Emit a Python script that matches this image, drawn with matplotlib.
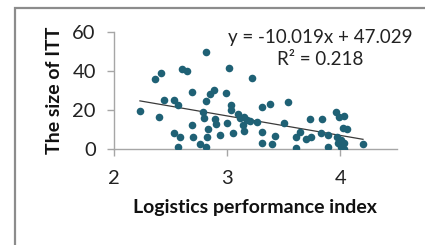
import matplotlib.pyplot as plt
import numpy as np
from matplotlib.patches import Rectangle

# Logistics performance index vs size of ITT
lpi = [2.23, 2.36, 2.42, 2.40, 2.44, 2.53, 2.57, 2.53, 2.58, 2.57,
       2.60, 2.65, 2.69, 2.69, 2.70, 2.76, 2.81, 2.81, 2.81, 2.79,
       2.80, 2.83, 2.82, 2.85, 2.88, 2.89, 2.90, 2.94, 2.99, 3.02,
       3.03, 3.03, 3.00, 3.05, 3.10, 3.11, 3.15, 3.18, 3.14, 3.15,
       3.22, 3.20, 3.26, 3.31, 3.31, 3.31, 3.38, 3.54, 3.42, 3.40,
       3.50, 3.61, 3.61, 3.64, 3.73, 3.84, 3.70, 3.74, 3.83, 3.89,
       3.89, 3.96, 3.99, 4.03, 4.02, 4.06, 3.97, 4.01, 4.03, 4.01,
       4.03, 4.20, 3.98]
itt = [19.5, 36.0, 39.0, 16.4, 25.0, 25.0, 22.6, 8.0, 6.3, 1.2,
       41.0, 40.0, 29.0, 12.3, 6.0, 2.4, 1.2, 50.0, 24.4, 19.0,
       15.7, 10.0, 6.3, 28.0, 30.3, 15.4, 13.0, 7.2, 28.7, 41.4,
       22.6, 20.2, 13.2, 8.0, 18.0, 15.7, 16.6, 14.9, 12.3, 9.4,
       36.2, 14.3, 13.9, 21.5, 8.5, 2.9, 22.9, 24.1, 6.8, 2.6,
       13.2, 6.3, 0.7, 8.9, 15.2, 15.2, 5.0, 6.0, 8.0, 7.2,
       1.2, 19.1, 16.2, 17.1, 10.9, 10.1, 6.0, 4.6, 3.2, 1.2,
       0.0, 2.7, 2.9]

slope = -10.019
intercept = 47.029
r_squared = 0.218

plt.rcParams['font.family'] = ['Lato', 'DejaVu Sans']

fig = plt.figure(figsize=(4.25, 2.45), dpi=100)
ax = fig.add_axes([0.268, 0.392, 0.666, 0.477])

ax.scatter(lpi, itt, s=30, color='#1F6175', zorder=3, linewidths=0)

# linear trendline
x_line = np.array([min(lpi), max(lpi)])
ax.plot(x_line, slope * x_line + intercept, color='#3A3A3A', lw=0.9, zorder=2)

ax.set_xlim(2, 4.5)
ax.set_ylim(0, 60)
ax.set_xticks([2, 3, 4])
ax.set_yticks([0, 20, 40, 60])

for side in ['top', 'right']:
    ax.spines[side].set_visible(False)
for side in ['left', 'bottom']:
    ax.spines[side].set_color('#A6A6A6')
    ax.spines[side].set_linewidth(1)

ax.tick_params(axis='x', direction='out', length=5, width=1, color='#A6A6A6',
               pad=10, labelsize=14.5, labelcolor='#222222')
ax.tick_params(axis='y', direction='out', length=5, width=1, color='#A6A6A6',
               pad=8, labelsize=14.5, labelcolor='#222222')

ax.set_xlabel('Logistics performance index', fontsize=14, fontweight='bold',
              labelpad=9, color='#111111')
ax.set_ylabel('The size of ITT', fontsize=14, fontweight='bold',
              labelpad=7, color='#111111')

ax.text(0.73, 0.86, f"y = {slope:.3f}x + {intercept:.3f}\nR² = {r_squared:.3f}",
        transform=ax.transAxes, ha='center', va='center', fontsize=13.5,
        color='#222222', linespacing=1.3)

# outer chart border
fig.patches.append(Rectangle((15 / 425, -0.1), 1.2, 1 - 8 / 245 + 0.1,
                             transform=fig.transFigure, fill=False,
                             edgecolor='#8C8C8C', lw=1.6))

fig.savefig('out.png', dpi=100)
